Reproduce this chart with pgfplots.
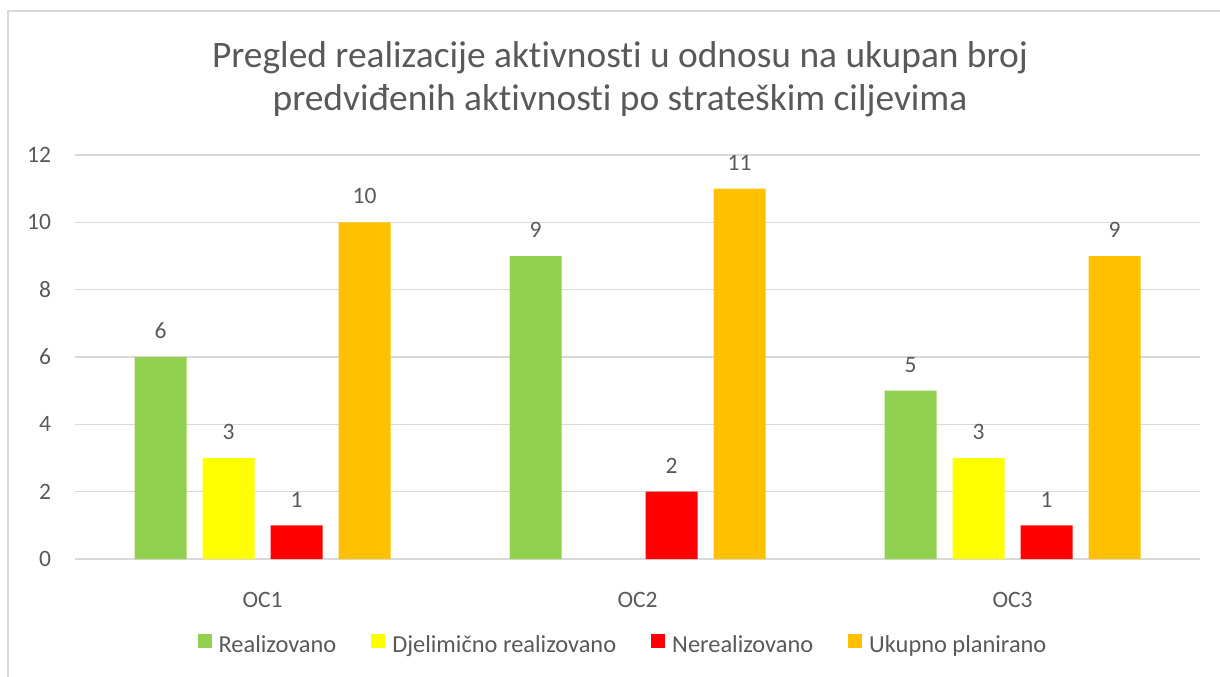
\documentclass[border=0pt]{standalone}
\usepackage{fontspec}
\setmainfont{Carlito}[Ligatures=NoCommon]
\usepackage{pgfplots}
\pgfplotsset{compat=1.18}
\definecolor{txt}{HTML}{595959}
\definecolor{gridc}{HTML}{D9D9D9}
\definecolor{cgreen}{HTML}{92D050}
\definecolor{cyellow}{HTML}{FFFF00}
\definecolor{cred}{HTML}{FF0000}
\definecolor{corange}{HTML}{FFC000}
\newcommand{\lbl}{\fontsize{11.75}{14}\selectfont}
\begin{document}
\begin{tikzpicture}
\path[use as bounding box] (0,0) rectangle (610pt,338pt);
\draw[color=gridc, line width=0.8pt] (4pt,-2pt) -- (4pt,332.5pt) -- (612pt,332.5pt);
\node[font=\fontsize{18.7}{21.5}\selectfont, text=txt, align=center] at (310pt,298.5pt)
 {Pregled realizacije aktivnosti u odnosu na ukupan broj\\predviđenih aktivnosti po strateškim ciljevima};
\begin{axis}[
  at={(37.5pt,58.5pt)}, anchor=south west,
  scale only axis, width=562.5pt, height=202pt,
  xmin=-0.5, xmax=2.5, ymin=0, ymax=12,
  ytick={0,2,...,12}, xtick={0,1,2}, xticklabels={OC1,OC2,OC3},
  ybar=8pt, bar width=26pt,
  axis line style={draw=none}, tick style={draw=none},
  ymajorgrids, major grid style={color=gridc, line width=0.8pt},
  /pgf/number format/assume math mode=true,
  tick label style={font=\lbl, text=txt},
  yticklabel style={xshift=-8.5pt},
  xticklabel style={yshift=-8.6pt},
  nodes near coords,
  every node near coord/.append style={font=\lbl, text=txt, yshift=5.6pt},
  legend columns=4,
  legend style={draw=none, font=\fontsize{12.2}{14}\selectfont, text=txt, at={(0.5,0)}, anchor=center,
    yshift=-43.5pt, xshift=-7pt,
    nodes={inner xsep=1.5pt},
    /tikz/every odd column/.append style={column sep=2pt},
    /tikz/every even column/.append style={column sep=16pt}},
  legend image code/.code={\fill[#1] (0pt,-1pt) rectangle (7pt,6pt);},
]
\addplot[fill=cgreen, draw=none] coordinates {(0,6) (1,9) (2,5)};
\addplot[fill=cyellow, draw=none] coordinates {(0,3) (2,3)};
\addplot[fill=cred, draw=none] coordinates {(0,1) (1,2) (2,1)};
\addplot[fill=corange, draw=none] coordinates {(0,10) (1,11) (2,9)};
\legend{Realizovano, Djelimično realizovano, Nerealizovano, Ukupno planirano}
\end{axis}
\end{tikzpicture}
\end{document}
